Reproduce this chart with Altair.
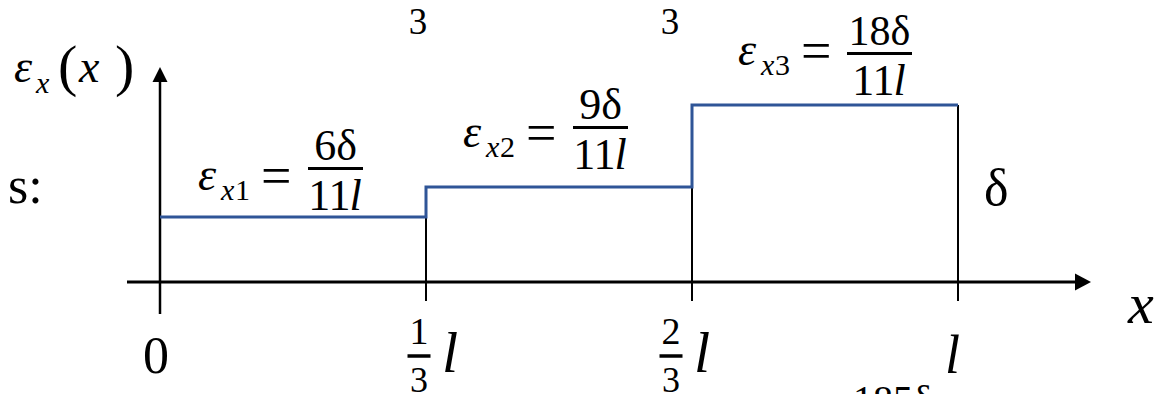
import altair as alt
import pandas as pd

# ---------------- data ----------------
x_breaks = [0.0, 1 / 3, 2 / 3, 1.0]          # positions along the bar, in units of l
strain_levels = [6.5, 9.5, 17.7]             # plotted heights of the three steps (1 unit ~ 10 px)
seg_subscripts = ["1", "2", "3"]
seg_numerators = ["6δ", "9δ", "18δ"]
seg_denominator = "11"
tick_numerators = ["1", "2"]
tick_denominator = "3"

# ---------------- frame: page pixels -> data units ----------------
X0_PX, L_PX = 160, 798      # x = 0 and length l in page pixels
Y0_PX, UNIT_PX = 282, 10    # strain 0 and one unit in page pixels
W, H = 1150, 386
MARGIN = 8


def dx(px):
    return (px - X0_PX) / L_PX


def dv(py):
    return (Y0_PX - py) / UNIT_PX


xs = alt.Scale(domain=[dx(MARGIN), dx(MARGIN + W)], nice=False, zero=False)
ys = alt.Scale(domain=[dv(MARGIN + H), dv(MARGIN)], nice=False, zero=False)
FONT = "Liberation Serif"
BLUE = "#2F5597"


def X(field="x"):
    return alt.X(f"{field}:Q", scale=xs, axis=None)


def Y(field="v"):
    return alt.Y(f"{field}:Q", scale=ys, axis=None)


layers = []

# ---------------- black vertical lines (under the step line) ----------------
vert_df = pd.DataFrame({
    "x": x_breaks[1:],
    "top": strain_levels,
    "bottom": [dv(301)] * len(strain_levels),
})
layers.append(
    alt.Chart(vert_df).mark_rule(color="black", strokeWidth=2).encode(
        x=X(), y=Y("top"), y2="bottom:Q"
    )
)

# ---------------- axes ----------------
yaxis_df = pd.DataFrame({"x": [0.0], "v": [dv(314)], "v2": [dv(82)]})
layers.append(
    alt.Chart(yaxis_df).mark_rule(color="black", strokeWidth=2.5).encode(
        x=X(), y=Y(), y2="v2:Q"
    )
)
xaxis_df = pd.DataFrame({"x": [dx(127)], "x2": [dx(1076)], "v": [0.0]})
layers.append(
    alt.Chart(xaxis_df).mark_rule(color="black", strokeWidth=3).encode(
        x=X(), x2="x2:Q", y=Y()
    )
)
arrow_r = pd.DataFrame({"x": [dx(1083)], "v": [0.0]})
layers.append(
    alt.Chart(arrow_r).mark_point(
        shape="M-1,-1.06L1,0L-1,1.06Z", size=256, filled=True, color="black", opacity=1
    ).encode(x=X(), y=Y())
)
arrow_u = pd.DataFrame({"x": [0.0], "v": [dv(74.5)]})
layers.append(
    alt.Chart(arrow_u).mark_point(
        shape="M-1,1L0,-1L1,1Z", size=225, filled=True, color="black", opacity=1
    ).encode(x=X(), y=Y())
)

# ---------------- step line ----------------
step_df = pd.DataFrame({"x": x_breaks, "v": strain_levels + [strain_levels[-1]]})
layers.append(
    alt.Chart(step_df).mark_line(
        interpolate="step-after", color=BLUE, strokeWidth=3
    ).encode(x=X(), y=Y())
)

# ---------------- text layout ----------------
parts = []   # text, page x, page baseline y, size, italic, align


def add(text, px, py, size, italic=False, align="left"):
    parts.append(dict(text=text, x=dx(px), v=dv(py), size=size,
                      italic=italic, align=align))


bars = []    # fraction bars: page x1, x2, y, width


def bar(x1, x2, y, w=3):
    bars.append(dict(x=dx(x1), x2=dx(x2), v=dv(y), w=w))


# epsilon_x(x)
add("ε", 14, 82, 46, True)
add("x", 36, 93, 30, True)
add("(", 58, 85, 58)
add("x", 79, 82, 46, True)
add(")", 115, 85, 58)

# equations above the steps: (eps left, eps baseline, frac centre, bar y, bar x1, x2, numerator size)
eq_layout = [
    (198, 190, 335.5, 168.5, 308, 363, 44),
    (463, 147, 600.5, 127.5, 573, 628, 44),
    (738, 65, 879.5, 53.5, 847, 912, 42),
]
for i, (L, B, cx, by, bx1, bx2, ns) in enumerate(eq_layout):
    add("ε", L, B, 46, True)
    add("x", L + 23, B + 10, 30, True)
    add(seg_subscripts[i], L + 37, B + 10, 30)
    add("=", L + 63, B + 4, 54)
    bar(bx1, bx2, by)
    add(seg_numerators[i], cx, by - 9, ns, align="center")
    add(seg_denominator, cx + 15, by + 41, 44, align="right")
    add("l", cx + 14, by + 41, 44, True)

# fragments of surrounding slide text
add("s:", 8, 203, 52)
add("3", 418, 34, 37, align="center")
add("3", 670, 34, 37, align="center")
add("δ", 984, 205, 52)
add("185δ", 853, 413, 40)

# tick labels under the x axis
add("0", 156, 373, 52, align="center")
for num, cx in zip(tick_numerators, [419, 671]):
    add(num, cx, 344, 38, align="center")
    bar(cx - 11.5, cx + 11.5, 356, 3.5)
    add(tick_denominator, cx, 392, 36, align="center")
    add("l", cx + 23, 372, 58, True)
add("l", 945, 373, 54, True)
add("x", 1128, 323, 58, True)

bar_df = pd.DataFrame(bars)
for w, sub in bar_df.groupby("w"):
    layers.append(
        alt.Chart(sub).mark_rule(color="black", strokeWidth=float(w)).encode(
            x=X(), x2="x2:Q", y=Y()
        )
    )

text_df = pd.DataFrame(parts)
for (italic, align), sub in text_df.groupby(["italic", "align"]):
    mark_kw = dict(font=FONT, align=align, baseline="alphabetic", color="black")
    if italic:
        mark_kw["fontStyle"] = "italic"
    layers.append(
        alt.Chart(sub).mark_text(**mark_kw).encode(
            x=X(), y=Y(), text="text:N",
            size=alt.Size("size:Q", scale=None, legend=None),
        )
    )

chart = alt.layer(*layers).properties(
    width=W, height=H, padding=0,
    autosize=alt.AutoSizeParams(type="none"),
    background="white",
).configure_view(stroke=None)

chart.save("out.html", embed_options={"renderer": "svg", "actions": False})
